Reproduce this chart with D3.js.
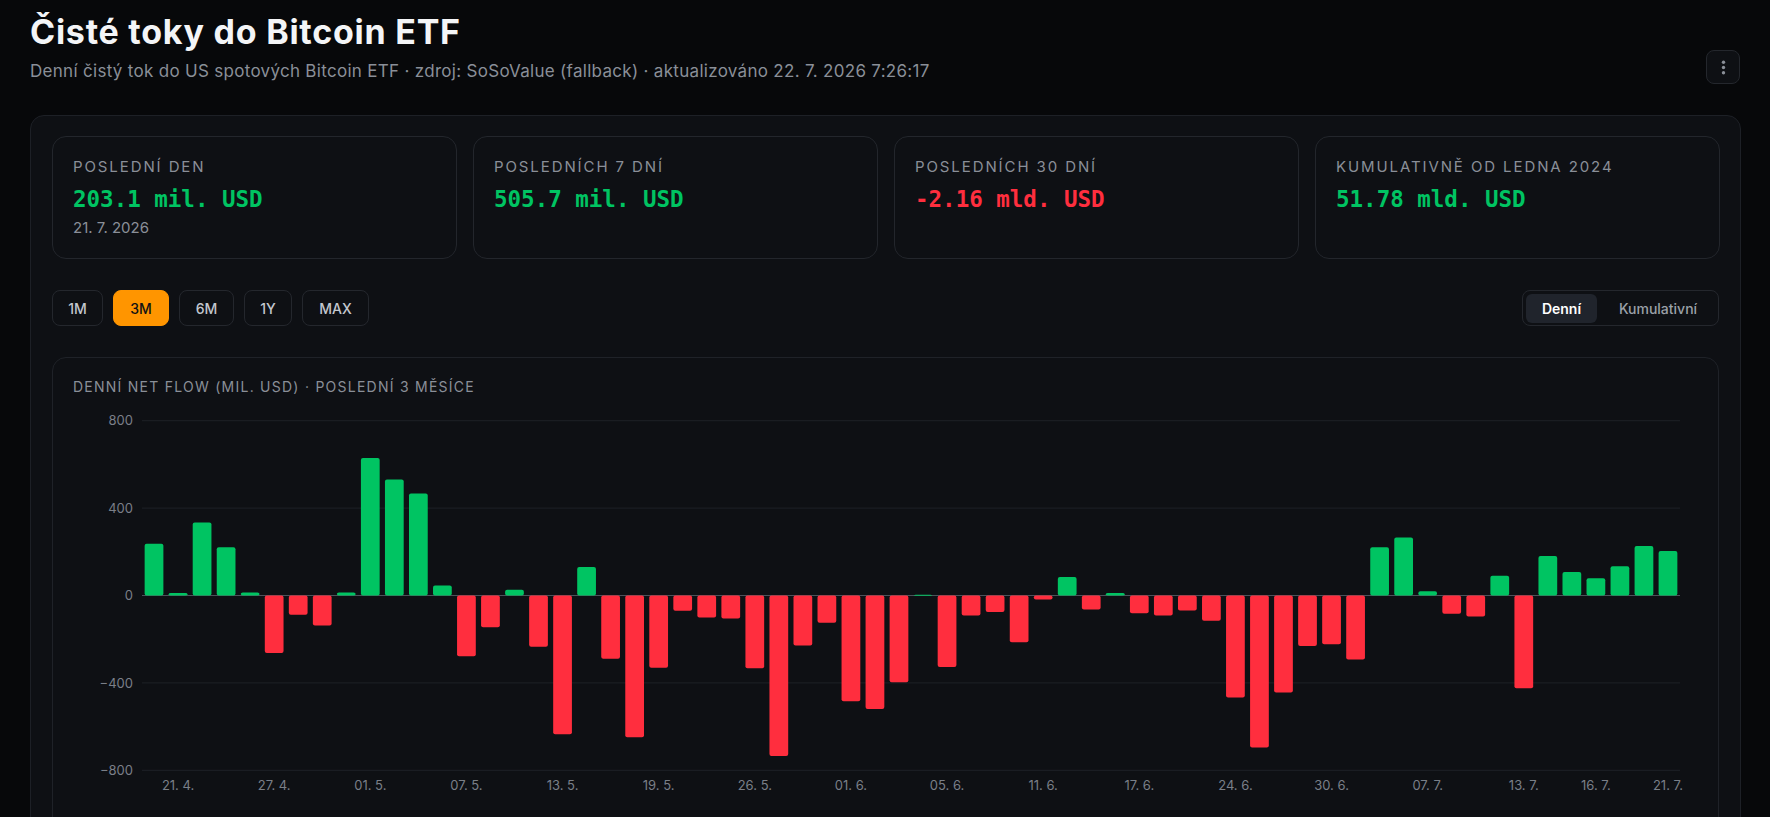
<!DOCTYPE html>
<html lang="cs">
<head>
<meta charset="utf-8">
<script src="https://cdn.jsdelivr.net/npm/d3@7/dist/d3.min.js"></script>
<style>
  html, body { margin: 0; padding: 0; }
  body { width: 1770px; height: 817px; overflow: hidden; background: #07080a; font-family: Inter, "Noto Sans", sans-serif; color: #e8eaee; position: relative; }
  .abs { position: absolute; box-sizing: border-box; }
  h1 { position: absolute; left: 30px; top: 12px; margin: 0; font-size: 34px; line-height: 40px; font-weight: 700; color: #f4f5f7; letter-spacing: 0.75px; white-space: nowrap; }
  .sub { left: 30px; top: 60px; font-size: 17px; line-height: 22px; letter-spacing: 0.3px; color: #8a8f98; white-space: nowrap; }
  .menu { left: 1706px; top: 50px; width: 34px; height: 34px; border: 1px solid #24272d; border-radius: 8px; background: #0e1014; }
  .outer { left: 30px; top: 115px; width: 1711px; height: 760px; border: 1px solid #1d2026; border-radius: 14px; background: #0e1014; }
  .stat { top: 136px; height: 123px; width: 405px; border: 1px solid #23262c; border-radius: 14px; background: #0e1014; }
  .stat .lbl { position: absolute; left: 20px; top: 21px; font-size: 15px; line-height: 18px; letter-spacing: 1.9px; color: #8a8f98; white-space: nowrap; }
  .stat .val { position: absolute; left: 20px; top: 48px; font-family: "DejaVu Sans Mono", monospace; font-weight: 700; font-size: 22.5px; line-height: 28px; white-space: nowrap; }
  .stat .dt { position: absolute; left: 20px; top: 82px; font-size: 15px; line-height: 18px; color: #8a8f98; white-space: nowrap; }
  .btn { top: 290px; height: 36px; border: 1px solid #24272d; border-radius: 8px; font-size: 14px; font-weight: 500; color: #c3c7ce; display: flex; align-items: center; justify-content: center; }
  .btn.on { background: #ff9500; border-color: #ff9500; color: #111214; }
  .toggle { left: 1522px; top: 290px; width: 197px; height: 36px; border: 1px solid #24272d; border-radius: 8px; }
  .pill { left: 1526px; top: 294px; width: 71px; height: 29px; border-radius: 6px; background: #20242c; }
  .tg { top: 290px; height: 36px; font-size: 14px; display: flex; align-items: center; justify-content: center; }
  .chartcard { left: 52px; top: 357px; width: 1667px; height: 520px; border: 1px solid #1f2228; border-radius: 14px; background: #0e1014; }
  .ctitle { left: 73px; top: 379px; font-size: 14px; line-height: 16px; letter-spacing: 1.25px; color: #8a8f98; white-space: nowrap; }
  svg { position: absolute; left: 0; top: 0; }
</style>
</head>
<body>
<script>
// ---- data ----
const dates = [
  "2026-04-20","2026-04-21","2026-04-22","2026-04-23","2026-04-24","2026-04-27","2026-04-28","2026-04-29","2026-04-30",
  "2026-05-01","2026-05-04","2026-05-05","2026-05-06","2026-05-07","2026-05-08","2026-05-11","2026-05-12","2026-05-13",
  "2026-05-14","2026-05-15","2026-05-18","2026-05-19","2026-05-20","2026-05-21","2026-05-22","2026-05-26","2026-05-27",
  "2026-05-28","2026-05-29","2026-06-01","2026-06-02","2026-06-03","2026-06-04","2026-06-05","2026-06-08","2026-06-09",
  "2026-06-10","2026-06-11","2026-06-12","2026-06-15","2026-06-16","2026-06-17","2026-06-18","2026-06-22","2026-06-23",
  "2026-06-24","2026-06-25","2026-06-26","2026-06-29","2026-06-30","2026-07-01","2026-07-02","2026-07-06","2026-07-07",
  "2026-07-08","2026-07-09","2026-07-10","2026-07-13","2026-07-14","2026-07-15","2026-07-16","2026-07-17","2026-07-20",
  "2026-07-21"
];
const flows = [
  237, 11, 334, 221, 14, -263, -88, -137, 14,
  629, 531, 467, 46, -278, -145, 26, -234, -635,
  130, -290, -649, -331, -70, -101, -105, -333, -734,
  -229, -125, -484, -519, -397, 3, -327, -92, -76,
  -214, -18, 85, -64, 11, -81, -92, -69, -115,
  -467, -696, -444, -231, -223, -293, 221, 266, 20,
  -84, -96, 90, -425, 181, 108, 79, 134, 227,
  203.1
];
const xTickDates = ["2026-04-21","2026-04-27","2026-05-01","2026-05-07","2026-05-13","2026-05-19","2026-05-26",
  "2026-06-01","2026-06-05","2026-06-11","2026-06-17","2026-06-24","2026-06-30","2026-07-07","2026-07-13",
  "2026-07-16","2026-07-21"];
const yTicks = [-800, -400, 0, 400, 800];
const yDomain = [-800, 800];

const statLabels = ["POSLEDNÍ DEN", "POSLEDNÍCH 7 DNÍ", "POSLEDNÍCH 30 DNÍ", "KUMULATIVNĚ OD LEDNA 2024"];
const statValues = ["203.1 mil. USD", "505.7 mil. USD", "-2.16 mld. USD", "51.78 mld. USD"];
const statSign = [1, 1, -1, 1];
const statDates = ["21. 7. 2026", "", "", ""];
const rangeButtons = ["1M", "3M", "6M", "1Y", "MAX"];
const activeRange = "3M";
const modes = ["Denní", "Kumulativní"];

const titleText = "Čisté toky do Bitcoin ETF";
const subtitleText = "Denní čistý tok do US spotových Bitcoin ETF · zdroj: SoSoValue (fallback) · aktualizováno 22. 7. 2026 7:26:17";
const chartTitle = "DENNÍ NET FLOW (MIL. USD) · POSLEDNÍ 3 MĚSÍCE";

// ---- styles ----
const GREEN = "#00c462", RED = "#ff2e3e";

const body = d3.select("body");
body.append("h1").text(titleText);
body.append("div").attr("class", "abs sub").text(subtitleText);
body.append("div").attr("class", "abs menu");
body.append("div").attr("class", "abs outer");

const cardLefts = [52, 473, 894, 1315];
statLabels.forEach((l, i) => {
  const c = body.append("div").attr("class", "abs stat").style("left", cardLefts[i] + "px");
  c.append("div").attr("class", "lbl").text(l);
  c.append("div").attr("class", "val").style("color", statSign[i] > 0 ? GREEN : RED).text(statValues[i]);
  if (statDates[i]) c.append("div").attr("class", "dt").text(statDates[i]);
});

const btnX = [52, 113, 179, 244, 302], btnW = [51, 56, 55, 48, 67];
rangeButtons.forEach((b, i) => {
  body.append("div").attr("class", "abs btn" + (b === activeRange ? " on" : ""))
    .style("left", btnX[i] + "px").style("width", btnW[i] + "px").text(b);
});
body.append("div").attr("class", "abs toggle");
body.append("div").attr("class", "abs pill");
body.append("div").attr("class", "abs tg").style("left", "1526px").style("width", "71px")
  .style("color", "#ffffff").style("font-weight", "600").text(modes[0]);
body.append("div").attr("class", "abs tg").style("left", "1600px").style("width", "116px")
  .style("color", "#9ba0a8").style("font-weight", "500").text(modes[1]);

body.append("div").attr("class", "abs chartcard");
body.append("div").attr("class", "abs ctitle").text(chartTitle);

// ---- chart ----
const svg = body.append("svg").attr("width", 1770).attr("height", 817);
const plotL = 142, plotR = 1680, plotT = 420.7, plotB = 770.3;

const x = d3.scaleBand().domain(dates).range([plotL, plotR]).paddingInner(0.22).paddingOuter(0.11);
const y = d3.scaleLinear().domain(yDomain).range([plotB, plotT]);

// menu dots
svg.append("g").selectAll("circle").data([0, 1, 2]).join("circle")
  .attr("cx", 1723.5).attr("cy", d => 62.3 + d * 5.2).attr("r", 1.7).attr("fill", "#8a8f98");

// grid
svg.append("g").selectAll("line").data(yTicks.filter(t => t !== 0)).join("line")
  .attr("x1", plotL).attr("x2", plotR).attr("y1", d => y(d)).attr("y2", d => y(d))
  .attr("stroke", "#1e2127").attr("stroke-width", 1);

// y axis
const yAxis = d3.axisLeft(y).tickValues(yTicks).tickSize(0).tickPadding(0).tickFormat(d3.format("d"));
const gy = svg.append("g").attr("transform", `translate(133,0)`).call(yAxis);
gy.select(".domain").remove();
gy.selectAll("text").attr("font-family", "Inter, sans-serif").attr("font-size", 13).attr("fill", "#7a7f88");

// zero line
svg.append("line").attr("x1", plotL).attr("x2", plotR).attr("y1", y(0)).attr("y2", y(0))
  .attr("stroke", "#4d525b").attr("stroke-width", 1);

// bars
svg.append("g").selectAll("rect").data(dates.map((d, i) => ({ d, v: flows[i] }))).join("rect")
  .attr("x", p => x(p.d)).attr("width", x.bandwidth())
  .attr("y", p => y(Math.max(0, p.v)))
  .attr("height", p => Math.max(0.8, Math.abs(y(p.v) - y(0))))
  .attr("rx", 2).attr("ry", 2)
  .attr("fill", p => p.v >= 0 ? GREEN : RED);

// x axis
const fmt = s => { const [yy, mm, dd] = s.split("-"); return `${dd}. ${+mm}.`; };
const xAxis = d3.axisBottom(x).tickValues(xTickDates).tickSize(0).tickPadding(0).tickFormat(fmt);
const gx = svg.append("g").attr("transform", `translate(0,780)`).call(xAxis);
gx.select(".domain").remove();
gx.selectAll("text").attr("font-family", "Inter, sans-serif").attr("font-size", 13).attr("fill", "#7a7f88")
  .attr("dy", "0.35em").attr("y", 5);
</script>
</body>
</html>
